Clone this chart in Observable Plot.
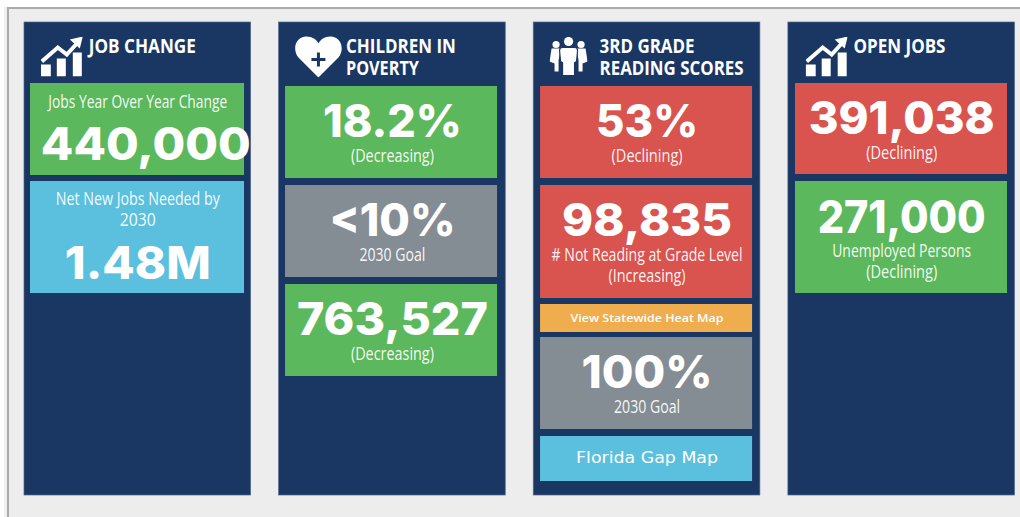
<!DOCTYPE html>
<html>
<head>
<meta charset="utf-8">
<script src="https://cdn.jsdelivr.net/npm/d3@7"></script>
<script src="https://cdn.jsdelivr.net/npm/@observablehq/plot@0.6"></script>
<style>
html,body{margin:0;padding:0;background:#fff;overflow:hidden;width:1020px;height:517px}
#frame{position:absolute;left:7px;top:7px;width:1013px;height:510px;box-sizing:border-box;background:#ededed;border-left:2px solid #ababab;border-top:2px solid #ababab;box-shadow:-3px 0 0 #efefef}
#chart{position:absolute;left:0;top:0}
#chart svg{background:transparent;display:block}
</style>
</head>
<body>
<div id="frame"></div>
<div id="chart"></div>
<script>
// ---- chart content ----
const columns = ["Job Change", "Children in Poverty", "3rd Grade Reading Scores", "Open Jobs"];
const headingColumn = [0, 1, 1, 2, 2, 3];
const headingText = ["JOB CHANGE", "CHILDREN IN", "POVERTY", "3RD GRADE", "READING SCORES", "OPEN JOBS"];

const tileColumn = [0, 0, 1, 1, 1, 2, 2, 2, 2, 2, 3, 3];
const tileStatus = ["good", "info", "good", "goal", "good", "bad", "bad", "link", "goal", "info", "bad", "good"];

const bigColumn = [0, 0, 1, 1, 1, 2, 2, 2, 3, 3];
const bigValues = ["440,000", "1.48M", "18.2%", "<10%", "763,527", "53%", "98,835", "100%", "391,038", "271,000"];

const noteColumn = [0, 0, 0, 1, 1, 1, 2, 2, 2, 2, 3, 3, 3];
const noteText = ["Jobs Year Over Year Change", "Net New Jobs Needed by", "2030", "(Decreasing)", "2030 Goal", "(Decreasing)",
  "(Declining)", "# Not Reading at Grade Level", "(Increasing)", "2030 Goal", "(Declining)", "Unemployed Persons", "(Declining)"];

const linkColumn = [2, 2];
const linkText = ["View Statewide Heat Map", "Florida Gap Map"];

// ---- layout and style (pixels of the page) ----
const statusNames = ["good", "info", "goal", "bad", "link"];
const statusColors = ["#5cb85c", "#5bc0de", "#858d94", "#d9534f", "#f0ad4e"];
const navy = "#1a3763";
const tileTop = [83, 181, 86, 185, 284, 86, 185, 304, 337, 436, 83, 181];
const tileBottom = [175, 293, 178, 277, 376, 178, 298, 332, 429, 481, 174, 293];
const tileInsetLeft = [6, 6.4, 6.8, 7.1];
const tileInsetRight = [6.6, 8.2, 7.8, 7.5];
const headingY = [46.5, 46.5, 68.5, 46.5, 68.5, 46.5];
const headingDx = [-49, -46.5, -46.5, -47.5, -47.5, -48.2];
const headingW = [107, 110, 73, 95, 144, 92];
const bigY = [145, 264, 122, 221, 320, 122, 221, 373, 119, 218];
const bigDx = [8, 0, 0, 0, 0, 0, 0, 0, 0, 0];
const bigW = [210, 146, 139, 126, 191, 102, 170, 131, 186, 168];
const noteY = [101.5, 198.5, 219.5, 155.5, 254.5, 353.5, 155.5, 254.5, 275.5, 406.5, 152.5, 250.5, 271.5];
const noteW = [179, 164, 36, 83, 66, 83, 71, 191, 77, 66, 71, 139, 71];
const linkY = [318, 458];
const linkW = [153, 142];
const iconColumn = [0, 1, 2, 3];
const iconDx = [-76, -74, -78.5, -75];
const iconSize = [[42, 40], [48, 42], [38, 40], [42, 40]];

const chartSvg = `<svg xmlns='http://www.w3.org/2000/svg' viewBox='0 0 42 40'><g fill='#fff'><rect x='0' y='28' width='10' height='12'/><rect x='16' y='22' width='9' height='18'/><rect x='32' y='16' width='9' height='24'/><polygon points='42,0 29,3 39,12'/></g><polyline points='1,25 17,11 26,18 36,7' fill='none' stroke='#fff' stroke-width='4'/></svg>`;
const heartSvg = `<svg xmlns='http://www.w3.org/2000/svg' viewBox='0 0 48 42'><path fill='#fff' d='M24 42 L4 22 C-3 13 2 1 12 1 C18 1 22 4 24 8 C26 4 30 1 36 1 C46 1 51 13 44 22 Z'/><path d='M24 17 V31 M17 24 H31' stroke='${navy}' stroke-width='3' fill='none'/></svg>`;
const peopleSvg = `<svg xmlns='http://www.w3.org/2000/svg' viewBox='0 0 38 40'><g fill='#fff'><circle cx='19' cy='5' r='4.6'/><circle cx='6.5' cy='8' r='3.6'/><circle cx='31.5' cy='8' r='3.6'/><path d='M2 12 H11 L9 24 V35 H5 V27 L0 25 Z'/><path d='M27 12 H36 L38 25 L33 27 V35 H29 V24 Z'/><path d='M13 11 H25 Q28 11 28 14 L27 25 L25 26 V39 H13 V26 L11 25 L10 14 Q10 11 13 11 Z' stroke='${navy}' stroke-width='1.2'/></g></svg>`;
const iconSources = [chartSvg, heartSvg, peopleSvg, chartSvg];

// ---- tables built from the arrays ----
const cards = columns.map(c => ({column: c}));
const tiles = tileColumn.map((c, i) => ({col: c, column: columns[c], status: tileStatus[i], top: tileTop[i], bottom: tileBottom[i]}));
const big = bigColumn.map((c, i) => ({column: columns[c], text: bigValues[i], y: bigY[i], w: bigW[i], dx: bigDx[i]}));
const notes = noteColumn.map((c, i) => ({column: columns[c], text: noteText[i], y: noteY[i], w: noteW[i]}));
const headings = headingColumn.map((c, i) => ({column: columns[c], text: headingText[i], y: headingY[i], w: headingW[i], dx: headingDx[i]}));
const links = linkColumn.map((c, i) => ({column: columns[c], text: linkText[i], y: linkY[i], w: linkW[i]}));

const bigFont = "Inter,'DejaVu Sans',sans-serif";
const noteFont = "'Open Sans',sans-serif";

const fitted = []; // widths, in the order the text elements are drawn
const textMark = (rows, opts) => {
  rows.forEach(r => fitted.push(r.w));
  return Plot.text(rows, {x: "column", y: "y", text: "text", fill: "#fff", lineAnchor: "middle", ...opts});
};

const plot = Plot.plot({
  width: 1020, height: 517,
  marginTop: 0, marginRight: 0, marginBottom: 0, marginLeft: 0,
  style: {background: "transparent"},
  x: {type: "band", domain: columns, range: [24, 1014.5], round: false, paddingInner: 0.11, paddingOuter: 0, axis: null},
  y: {domain: [0, 517], range: [0, 517], axis: null},
  color: {domain: statusNames, range: statusColors},
  marks: [
    Plot.barY(cards, {x: "column", y1: () => 22, y2: () => 495, fill: navy, stroke: "#50688f", strokeWidth: 0.7}),
    ...columns.map((c, k) => Plot.barY(tiles.filter(t => t.col === k), {
      x: "column", y1: "top", y2: "bottom", fill: "status", insetLeft: tileInsetLeft[k], insetRight: tileInsetRight[k]
    })),
    ...iconColumn.map((c, i) => Plot.image([{column: columns[c], y: 56}], {
      x: "column", y: "y", src: () => "data:image/svg+xml," + encodeURIComponent(iconSources[i]),
      width: iconSize[i][0], height: iconSize[i][1], dx: iconDx[i]
    })),
    ...headings.map(h => textMark([h], {textAnchor: "start", dx: h.dx, fontFamily: noteFont, fontWeight: 700, fontSize: 19.5})),
    ...big.map(b => textMark([b], {dx: b.dx, fontFamily: bigFont, fontWeight: 800, fontSize: 45})),
    textMark(notes, {fontFamily: noteFont, fontSize: 17.5, fillOpacity: 0.95}),
    textMark(links.slice(0, 1), {fontFamily: noteFont, fontSize: 11, fontWeight: 600}),
    textMark(links.slice(1), {fontFamily: "'DejaVu Sans',sans-serif", fontSize: 15.5})
  ]
});
document.getElementById("chart").appendChild(plot);

// Open Sans Condensed and Montserrat are not installed: squeeze the installed faces to the reference's run widths.
plot.querySelectorAll("text").forEach((t, i) => {
  t.setAttribute("textLength", fitted[i]);
  t.setAttribute("lengthAdjust", "spacingAndGlyphs");
});
</script>
</body>
</html>
